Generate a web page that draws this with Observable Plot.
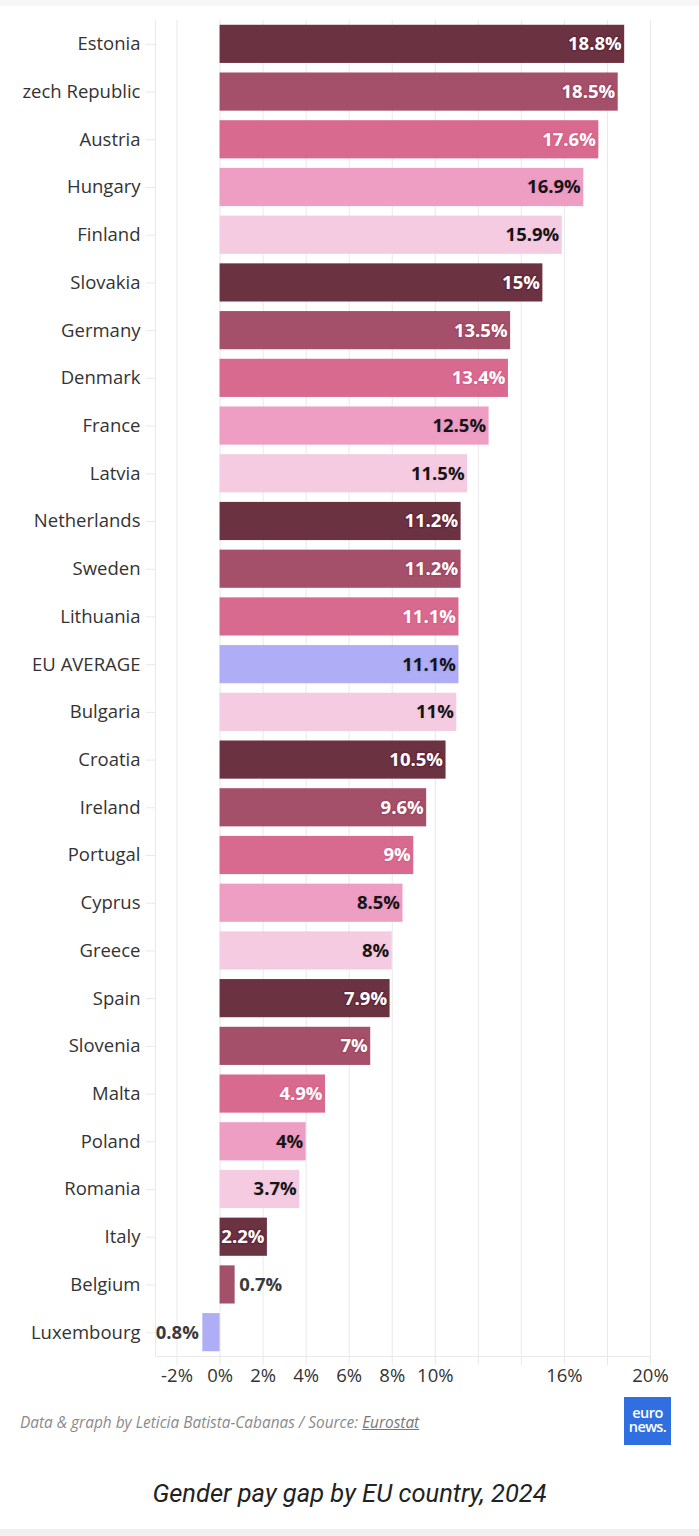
<!DOCTYPE html>
<html>
<head>
<meta charset="utf-8">
<script src="https://cdn.jsdelivr.net/npm/d3@7"></script>
<script src="https://cdn.jsdelivr.net/npm/@observablehq/plot@0.6"></script>
<style>
  html, body { margin: 0; padding: 0; background: #fff; }
  #wrap { position: relative; width: 699px; height: 1536px; overflow: hidden; font-family: "Open Sans", sans-serif; }
  #topstrip { position: absolute; left: 0; top: 0; width: 699px; height: 6px; background: #f6f6f6; }
  #botstrip { position: absolute; left: 0; top: 1529px; width: 699px; height: 7px; background: #f0f0f0; }
  #chart { position: absolute; left: 0; top: 0; }
  #source { position: absolute; left: 20px; top: 1412px; font-size: 15.4px; font-style: italic; color: #8a8a8a; white-space: nowrap; }
  #source u { color: #777; }
  #logo { position: absolute; left: 624px; top: 1397px; width: 47px; height: 48px; background: #2f6fe0; }
  #logotext { position: absolute; left: 1px; top: 9px; width: 45px; text-align: center; color: #fff;
              font-family: "Open Sans", sans-serif; font-size: 14.5px; font-weight: 600; line-height: 14px; letter-spacing: -0.6px; }
  #title { position: absolute; left: 0; width: 699px; top: 1478px; text-align: center; font-family: Roboto, sans-serif; font-style: italic; font-size: 25.5px; color: #222; }
</style>
</head>
<body>
<div id="wrap">
  <div id="topstrip"></div>
  <div id="chart"></div>
  <div id="source">Data &amp; graph by Leticia Batista-Cabanas / Source: <u>Eurostat</u></div>
  <div id="logo"><div id="logotext">euro news.</div></div>
  <div id="title">Gender pay gap by EU country, 2024</div>
  <div id="botstrip"></div>
</div>
<script>
const countries = ["Estonia", "zech Republic", "Austria", "Hungary", "Finland", "Slovakia", "Germany", "Denmark", "France", "Latvia",
  "Netherlands", "Sweden", "Lithuania", "EU AVERAGE", "Bulgaria", "Croatia", "Ireland", "Portugal", "Cyprus", "Greece",
  "Spain", "Slovenia", "Malta", "Poland", "Romania", "Italy", "Belgium", "Luxembourg"];
const values = [18.8, 18.5, 17.6, 16.9, 15.9, 15, 13.5, 13.4, 12.5, 11.5,
  11.2, 11.2, 11.1, 11.1, 11, 10.5, 9.6, 9, 8.5, 8,
  7.9, 7, 4.9, 4, 3.7, 2.2, 0.7, -0.8];
const labels = ["18.8%", "18.5%", "17.6%", "16.9%", "15.9%", "15%", "13.5%", "13.4%", "12.5%", "11.5%",
  "11.2%", "11.2%", "11.1%", "11.1%", "11%", "10.5%", "9.6%", "9%", "8.5%", "8%",
  "7.9%", "7%", "4.9%", "4%", "3.7%", "2.2%", "0.7%", "0.8%"];
const shades = ["s1", "s2", "s3", "s4", "s5", "s1", "s2", "s3", "s4", "s5",
  "s1", "s2", "s3", "eu", "s5", "s1", "s2", "s3", "s4", "s5",
  "s1", "s2", "s3", "s4", "s5", "s1", "s2", "eu"];
const shadeDomain = ["s1", "s2", "s3", "s4", "s5", "eu"];
const shadeColors = ["#632738", "#a04762", "#d76289", "#ed98c0", "#f3c8df", "#aaa9f4"];
const darkShades = ["s1", "s2", "s3"];
const gridTicks = [-2, 0, 2, 4, 6, 8, 10, 12, 14, 16, 18, 20];
const tickLabels = [-2, 0, 2, 4, 6, 8, 10, 16, 20];

const rows = countries.map((c, i) => ({country: c, value: values[i], label: labels[i], shade: shades[i]}));
const inside = rows.filter(d => d.value >= 1);
const insideDark = inside.filter(d => darkShades.includes(d.shade));
const insideLight = inside.filter(d => !darkShades.includes(d.shade));
const outsidePos = rows.filter(d => d.value > 0 && d.value < 1);
const outsideNeg = rows.filter(d => d.value < 0);

const gridColor = "#e9e9e9";
const fs = 18.5;

const chart = Plot.plot({
  width: 699,
  height: 1400,
  marginTop: 20,
  marginBottom: 44,
  marginLeft: 155,
  marginRight: 49,
  style: {fontFamily: "'Open Sans', sans-serif", background: "transparent"},
  x: {domain: [-3, 20], label: null},
  y: {domain: countries, paddingInner: 0.2, paddingOuter: 0.1, round: false, label: null},
  color: {domain: shadeDomain, range: shadeColors},
  marks: [
    Plot.gridX(gridTicks, {stroke: gridColor, strokeOpacity: 1}),
    Plot.ruleX([-3], {stroke: gridColor}),
    Plot.frame({anchor: "bottom", stroke: gridColor}),
    Plot.axisX(gridTicks, {
      tickSize: 9, tickPadding: 3, stroke: gridColor, fill: "#333", fontSize: fs,
      tickFormat: d => tickLabels.includes(d) ? d + "%" : ""
    }),
    Plot.axisY({tickSize: 9, tickPadding: 6, stroke: gridColor, fill: "#333", fontSize: fs}),
    Plot.barX(rows, {x: "value", y: "country", fill: "shade", fillOpacity: 0.95}),
    Plot.text(insideDark, {x: "value", y: "country", text: "label", textAnchor: "end", dx: -3,
      fill: "white", stroke: "shade", strokeWidth: 3, fontWeight: 700, fontSize: fs}),
    Plot.text(insideLight, {x: "value", y: "country", text: "label", textAnchor: "end", dx: -3,
      fill: "#151515", stroke: "shade", strokeWidth: 3, fontWeight: 700, fontSize: fs}),
    Plot.text(outsidePos, {x: "value", y: "country", text: "label", textAnchor: "start", dx: 4,
      fill: "#3a3a3a", fontWeight: 700, fontSize: fs}),
    Plot.text(outsideNeg, {x: "value", y: "country", text: "label", textAnchor: "end", dx: -4,
      fill: "#3a3a3a", fontWeight: 700, fontSize: fs})
  ]
});
document.getElementById("chart").appendChild(chart);
</script>
</body>
</html>
